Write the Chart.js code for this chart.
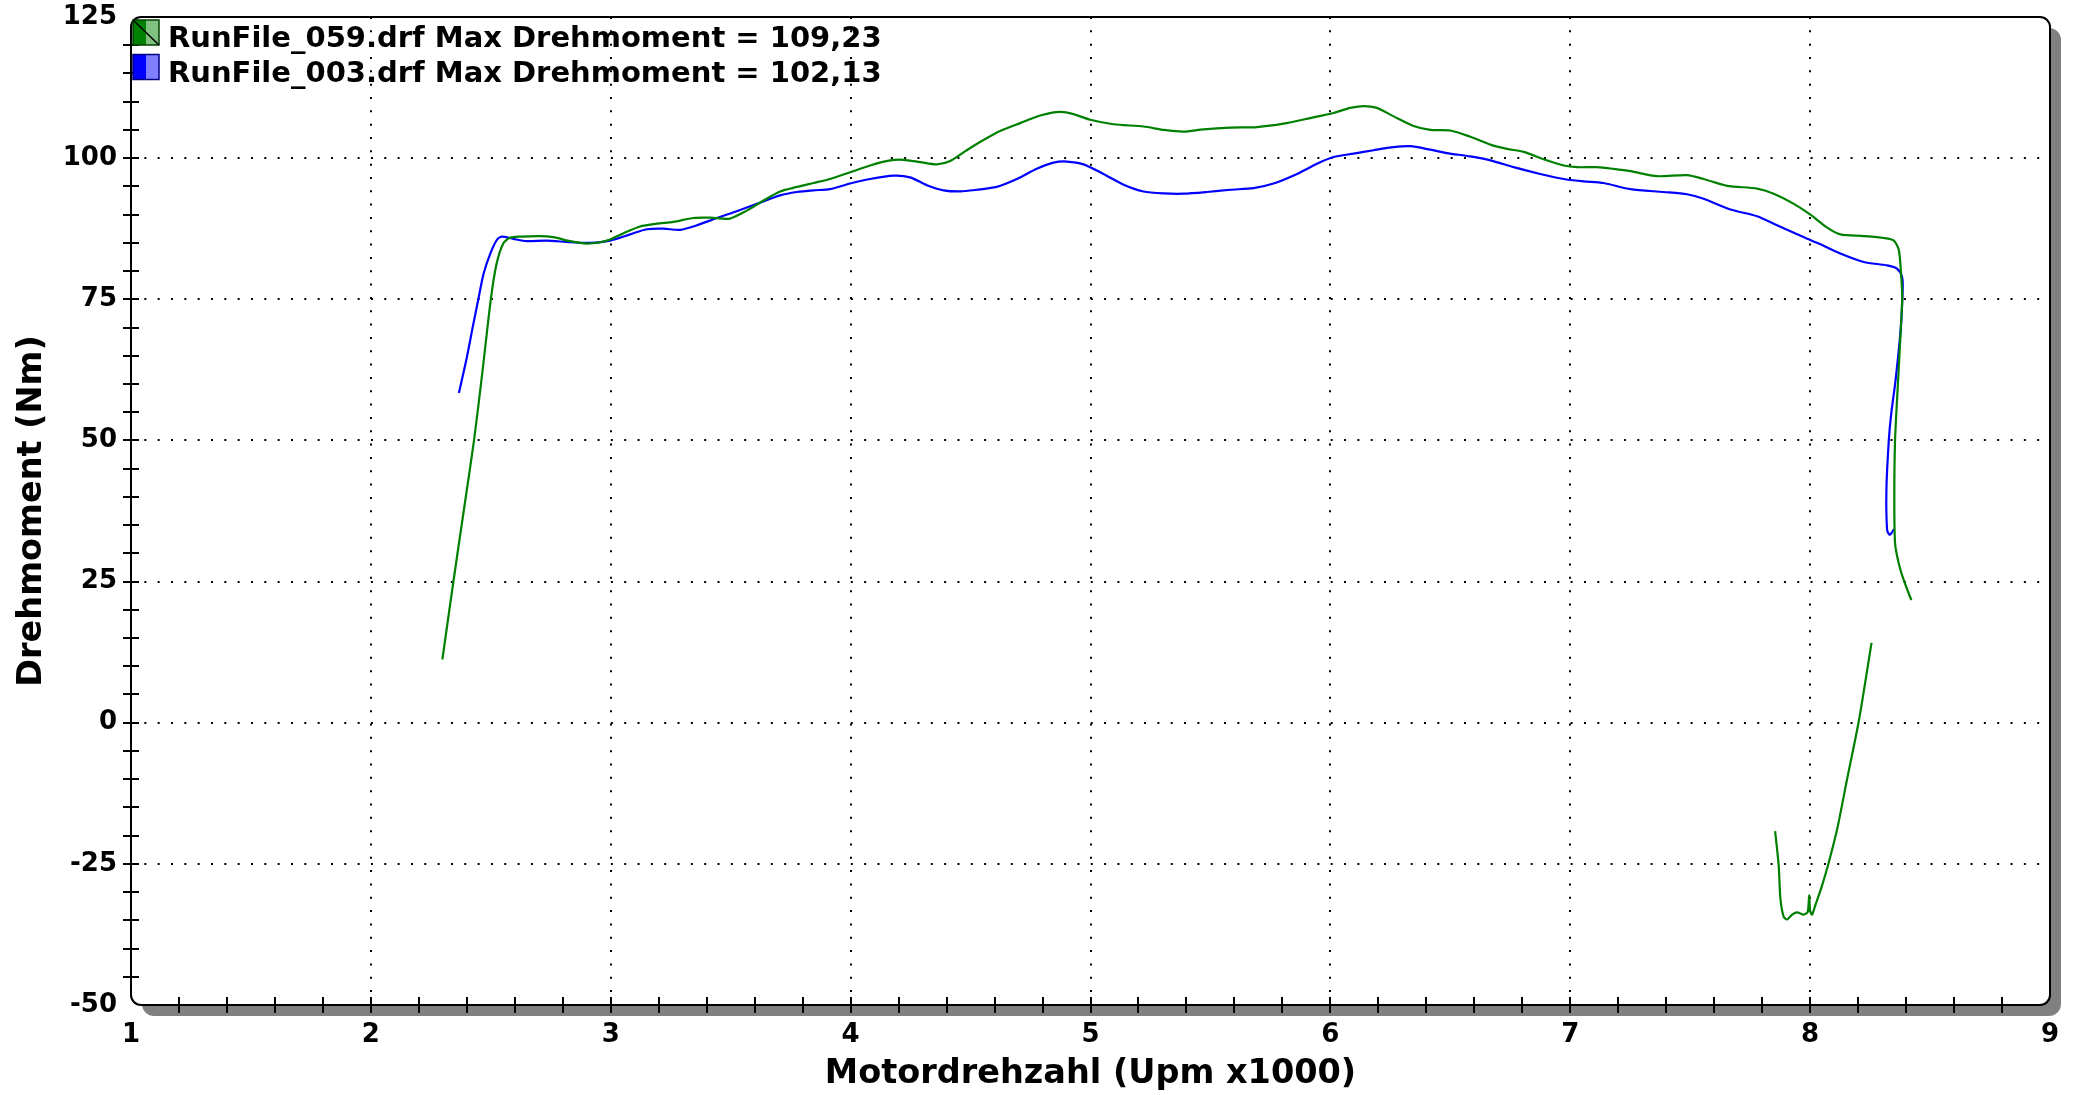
<!DOCTYPE html>
<html><head><meta charset="utf-8">
<script src="https://cdn.jsdelivr.net/npm/chart.js@4.4.1/dist/chart.umd.min.js"></script>
<style>html,body{margin:0;padding:0;background:#fff;overflow:hidden}#wrap{width:2078px;height:1095px;position:relative}</style>
</head><body><div id="wrap"><canvas id="c" width="2078" height="1095"></canvas></div>
<script>
// ---- data ----
const greenLabel = 'RunFile_059.drf Max Drehmoment = 109,23';
const blueLabel  = 'RunFile_003.drf Max Drehmoment = 102,13';
const xTitle = 'Motordrehzahl (Upm x1000)';
const yTitle = 'Drehmoment (Nm)';

const greenRpm = [2.298,2.344,2.387,2.430,2.466,2.500,2.524,2.552,2.580,2.622,2.705,2.761,2.830,2.900,2.955,2.997,3.053,3.122,3.192,3.261,3.345,3.414,3.497,3.567,3.637,3.706,3.776,3.845,3.914,3.998,4.081,4.165,4.220,4.290,4.359,4.415,4.484,4.554,4.623,4.707,4.790,4.874,4.929,4.999,5.096,5.221,5.305,5.388,5.471,5.582,5.694,5.805,5.916,6.013,6.083,6.139,6.194,6.264,6.347,6.417,6.500,6.583,6.667,6.736,6.806,6.889,6.973,7.028,7.112,7.181,7.251,7.362,7.487,7.556,7.654,7.779,7.848,7.932,8.001,8.071,8.126,8.224,8.307,8.349,8.370,8.379,8.384,8.374,8.363,8.354,8.351,8.354,8.369,8.390,8.422,
  8.422,
  7.854,7.869,7.876,7.890,7.904,7.925,7.946,7.973,7.990,7.996,8.000,8.008,8.022,8.050,8.078,8.113,8.154,8.203,8.256];
const greenNm = [11.2,25.0,37.5,50.0,62.5,75.0,81.3,84.9,85.9,86.1,86.2,86.0,85.3,84.85,85.1,85.6,86.7,87.9,88.4,88.7,89.4,89.45,89.3,90.7,92.5,94.1,94.9,95.6,96.3,97.5,98.7,99.6,99.7,99.3,98.9,99.5,101.4,103.2,104.8,106.2,107.55,108.2,107.8,106.8,106.0,105.6,105.0,104.7,105.1,105.4,105.5,106.1,107.1,108.0,108.9,109.23,108.9,107.4,105.7,105.0,104.9,103.8,102.4,101.65,101.1,99.8,98.7,98.4,98.4,98.1,97.7,96.8,97.0,96.3,95.1,94.6,93.7,91.9,90.0,87.7,86.5,86.2,85.85,85.4,83.7,79.5,75.3,66.5,57.7,50.0,40.0,31.8,28.3,25.3,21.7,
  null,
  -19.2,-25.3,-31.1,-34.4,-34.85,-34.0,-33.6,-34.0,-33.5,-30.6,-33.3,-34.0,-32.3,-28.8,-24.7,-18.8,-10.0,0.3,14.15];

const blueRpm = [2.367,2.400,2.427,2.448,2.469,2.497,2.525,2.545,2.594,2.650,2.733,2.830,2.914,2.997,3.081,3.150,3.220,3.289,3.359,3.442,3.525,3.609,3.706,3.776,3.845,3.914,3.998,4.081,4.179,4.248,4.318,4.387,4.457,4.526,4.609,4.693,4.776,4.846,4.901,4.971,5.054,5.138,5.221,5.305,5.388,5.485,5.582,5.680,5.763,5.861,5.944,6.013,6.097,6.180,6.264,6.333,6.417,6.486,6.583,6.667,6.764,6.875,6.973,7.056,7.139,7.251,7.390,7.487,7.556,7.668,7.779,7.862,7.946,8.029,8.126,8.224,8.321,8.363,8.383,8.386,8.377,8.356,8.338,8.328,8.318,8.321,8.331,8.336,8.350];
const blueNm = [58.4,64.7,70.6,75.0,79.4,83.0,85.5,86.1,85.7,85.3,85.4,85.1,85.0,85.4,86.5,87.4,87.5,87.3,88.1,89.4,90.6,91.9,93.4,94.0,94.3,94.5,95.5,96.3,96.9,96.6,95.2,94.3,94.1,94.4,94.9,96.3,98.1,99.2,99.4,98.9,97.2,95.3,94.1,93.75,93.7,94.0,94.4,94.7,95.5,97.2,99.0,100.2,100.8,101.4,101.95,102.13,101.5,100.9,100.3,99.6,98.4,97.2,96.3,95.9,95.6,94.5,94.0,93.6,92.8,90.9,89.7,88.1,86.5,85.0,83.1,81.6,81.0,80.4,79.0,77.1,69.4,60.6,54.7,50.0,41.2,34.1,33.3,33.4,34.3];

const xMin = 1, xMax = 9, xMinorStep = 0.2;
const yMin = -50, yMax = 125, yMinorStep = 5, yMajorStep = 25;

// ---- helpers ----
const FONT = "'DejaVu Sans', Verdana, sans-serif";
const toPts = (xs, ys) => xs.map((x, i) => ({x: x, y: ys[i]}));
const isMult = (v, s) => Math.abs(v / s - Math.round(v / s)) < 1e-6;

function rrect(ctx, x, y, w, h, r) {
  ctx.beginPath();
  ctx.moveTo(x + r, y);
  ctx.arcTo(x + w, y, x + w, y + h, r);
  ctx.arcTo(x + w, y + h, x, y + h, r);
  ctx.arcTo(x, y + h, x, y, r);
  ctx.arcTo(x, y, x + w, y, r);
  ctx.closePath();
}

const framePlugin = {
  id: 'frame',
  beforeDraw(chart) {
    const {ctx, chartArea: a} = chart;
    ctx.save();
    ctx.fillStyle = '#808080';
    rrect(ctx, a.left + 11, a.top + 11, a.right - a.left, a.bottom - a.top, 12);
    ctx.fill();
    ctx.fillStyle = '#ffffff';
    rrect(ctx, a.left, a.top, a.right - a.left, a.bottom - a.top, 10);
    ctx.fill();
    ctx.restore();
  },
  afterDraw(chart) {
    const {ctx, chartArea: a, scales} = chart;
    ctx.save();
    // frame
    ctx.strokeStyle = '#000';
    ctx.lineWidth = 2;
    rrect(ctx, a.left, a.top, a.right - a.left, a.bottom - a.top, 10);
    ctx.stroke();
    // minor ticks crossing the axes
    ctx.lineWidth = 2;
    ctx.beginPath();
    scales.x.ticks.forEach(t => {
      if (t.value <= xMin + 1e-6 || t.value >= xMax - 1e-6) return;
      const px = Math.round(scales.x.getPixelForValue(t.value));
      ctx.moveTo(px, a.bottom - 8); ctx.lineTo(px, a.bottom + 8);
    });
    scales.y.ticks.forEach(t => {
      if (t.value <= yMin + 1e-6 || t.value >= yMax - 1e-6) return;
      const py = Math.round(scales.y.getPixelForValue(t.value));
      ctx.moveTo(a.left - 8, py); ctx.lineTo(a.left + 8, py);
    });
    ctx.stroke();
    // legend
    ctx.font = "bold 29px " + FONT;
    ctx.textBaseline = 'middle';
    ctx.textAlign = 'left';
    chart.data.datasets.forEach((ds, i) => {
      const bx = a.left + 2, by = a.top + 3 + i * 34.5, bw = 26, bh = 25;
      ctx.fillStyle = ds.borderColor;
      ctx.fillRect(bx, by, bw, bh);
      ctx.fillStyle = ds.lightColor;
      ctx.fillRect(bx + 13, by, bw - 13, bh);
      ctx.lineWidth = 1.5;
      ctx.strokeStyle = ds.darkColor;
      ctx.strokeRect(bx, by, bw, bh);
      if (i === 0) {
        ctx.strokeStyle = '#000';
        ctx.lineWidth = 1.5;
        ctx.beginPath(); ctx.moveTo(bx, by); ctx.lineTo(bx + bw, by + bh); ctx.stroke();
      }
      ctx.fillStyle = '#000';
      ctx.fillText(ds.label, bx + 35, by + bh / 2 + 7);
    });
    ctx.restore();
  }
};

const gridColor = (step, min, max) => (c) => {
  const v = c.tick ? c.tick.value : null;
  if (v === null || v <= min + 1e-6 || v >= max - 1e-6) return 'rgba(0,0,0,0)';
  return isMult(v, step) ? '#000' : 'rgba(0,0,0,0)';
};

new Chart(document.getElementById('c'), {
  type: 'line',
  data: {
    datasets: [
      {label: greenLabel, data: toPts(greenRpm, greenNm), borderColor: '#008000', lightColor: '#80c080', darkColor: '#004000',
       borderWidth: 2.2, pointRadius: 0, tension: 0.25, spanGaps: false, fill: false},
      {label: blueLabel, data: toPts(blueRpm, blueNm), borderColor: '#0000ff', lightColor: '#8080ff', darkColor: '#000080',
       borderWidth: 2.2, pointRadius: 0, tension: 0.25, spanGaps: false, fill: false}
    ]
  },
  options: {
    responsive: false,
    animation: false,
    devicePixelRatio: 1,
    layout: {padding: {top: 17, right: 28, left: 0, bottom: 0}},
    plugins: {legend: {display: false}, tooltip: {enabled: false}},
    scales: {
      x: {
        type: 'linear', min: xMin, max: xMax,
        afterFit(s) { s.height = 90; },
        ticks: {stepSize: xMinorStep, autoSkip: false, maxRotation: 0, padding: 15,
          color: '#000', font: {family: FONT, size: 26, weight: 'bold'},
          callback: v => isMult(v, 1) ? String(Math.round(v)) : ''},
        grid: {drawTicks: false, color: gridColor(1, xMin, xMax), lineWidth: 2},
        border: {display: false, dash: [2, 11.33]},
        title: {display: true, text: xTitle, color: '#000', font: {family: FONT, size: 33.5, weight: 'bold'}, padding: {top: 0, bottom: 1}}
      },
      y: {
        type: 'linear', min: yMin, max: yMax,
        afterFit(s) { s.width = 131; s.paddingTop = 0; s.paddingBottom = 0; },
        ticks: {stepSize: yMinorStep, autoSkip: false, padding: 14,
          color: '#000', font: {family: FONT, size: 26, weight: 'bold'},
          callback: v => isMult(v, yMajorStep) ? String(Math.round(v)) : ''},
        grid: {drawTicks: false, color: gridColor(yMajorStep, yMin, yMax), lineWidth: 2},
        border: {display: false, dash: [2, 11.33]},
        title: {display: true, text: yTitle, color: '#000', font: {family: FONT, size: 33.5, weight: 'bold'}, padding: {top: 12, bottom: 0}}
      }
    }
  },
  plugins: [framePlugin]
});
</script></body></html>
